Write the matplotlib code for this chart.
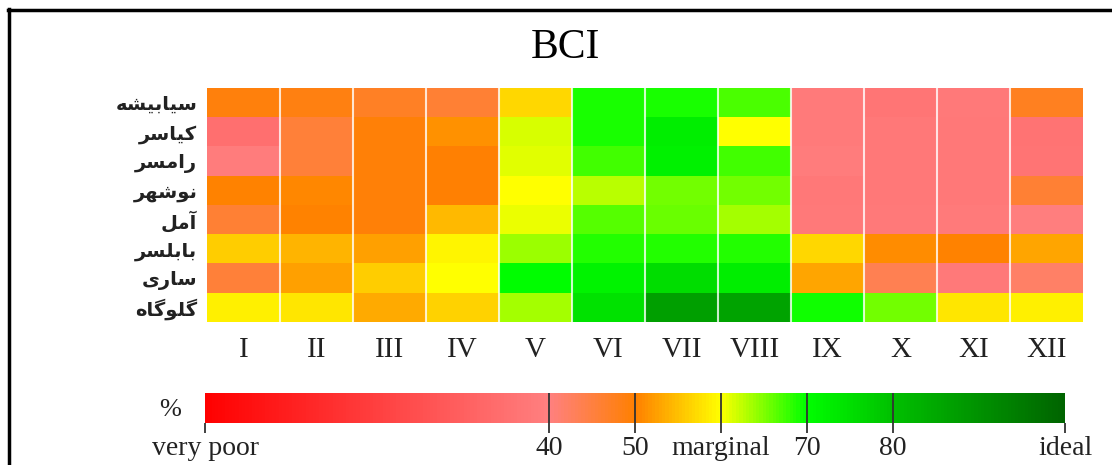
import numpy as np
import matplotlib
matplotlib.use("Agg")
import matplotlib.pyplot as plt
from matplotlib.colors import LinearSegmentedColormap
from matplotlib.lines import Line2D

# --------------------------------------------------------------------------- #
# Data (BCI %)
# --------------------------------------------------------------------------- #
stations = ["سیابیشه", "کیاسر", "رامسر", "نوشهر", "آمل", "بابلسر", "ساری", "گلوگاه"]
months = ["I", "II", "III", "IV", "V", "VI", "VII", "VIII", "IX", "X", "XI", "XII"]

siabishe = [49.0, 48.5, 47.0, 46.0, 57.0, 69.0, 69.0, 67.0, 38.5, 37.0, 38.0, 47.5]
kiasar   = [35.0, 45.5, 49.5, 51.5, 61.5, 69.0, 72.5, 60.0, 38.5, 37.5, 37.5, 36.0]
ramsar   = [39.0, 45.5, 49.5, 49.8, 61.0, 67.5, 72.0, 67.5, 39.0, 37.5, 37.5, 36.5]
nowshahr = [50.0, 50.5, 49.5, 49.8, 60.0, 62.5, 65.5, 65.5, 37.5, 37.5, 37.5, 46.0]
amol     = [46.0, 50.0, 49.5, 54.5, 60.8, 66.5, 66.0, 63.5, 38.0, 38.0, 38.5, 39.5]
babolsar = [56.0, 54.0, 52.5, 59.2, 64.0, 68.5, 68.5, 68.5, 56.8, 50.8, 50.0, 53.0]
sari     = [45.5, 52.5, 56.0, 60.0, 70.0, 71.5, 75.0, 72.5, 53.0, 43.5, 38.0, 42.0]
galugah  = [58.7, 58.0, 53.3, 56.5, 63.5, 74.5, 87.0, 86.0, 69.5, 65.5, 58.0, 58.7]

cbar_ticks = [0, 40, 50, 60, 70, 80, 100]
cbar_labels = ["very poor", "40", "50", "marginal", "70", "80", "ideal"]

# --------------------------------------------------------------------------- #
# Persian shaping (matplotlib does no contextual shaping / bidi)
# --------------------------------------------------------------------------- #
# isolated, final, initial, medial
FORMS = {
    "ا": ("\uFE8D", "\uFE8E", None, None),
    "آ": ("\uFE81", "\uFE82", None, None),
    "ر": ("\uFEAD", "\uFEAE", None, None),
    "و": ("\uFEED", "\uFEEE", None, None),
    "ب": ("\uFE8F", "\uFE90", "\uFE91", "\uFE92"),
    "س": ("\uFEB1", "\uFEB2", "\uFEB3", "\uFEB4"),
    "ش": ("\uFEB5", "\uFEB6", "\uFEB7", "\uFEB8"),
    "ل": ("\uFEDD", "\uFEDE", "\uFEDF", "\uFEE0"),
    "م": ("\uFEE1", "\uFEE2", "\uFEE3", "\uFEE4"),
    "ن": ("\uFEE5", "\uFEE6", "\uFEE7", "\uFEE8"),
    "ه": ("\uFEE9", "\uFEEA", "\uFEEB", "\uFEEC"),
    "ی": ("\uFBFC", "\uFBFD", "\uFBFE", "\uFBFF"),
    "ک": ("\uFB8E", "\uFB8F", "\uFB90", "\uFB91"),
    "گ": ("\uFB92", "\uFB93", "\uFB94", "\uFB95"),
}


def dual(ch):
    return ch in FORMS and FORMS[ch][2] is not None


def shape(word):
    out = []
    for i, ch in enumerate(word):
        prev_joins = i > 0 and dual(word[i - 1])
        next_joins = i < len(word) - 1 and dual(ch) and word[i + 1] in FORMS
        iso, fin, ini, med = FORMS[ch]
        if prev_joins and next_joins:
            out.append(med)
        elif prev_joins:
            out.append(fin)
        elif next_joins:
            out.append(ini)
        else:
            out.append(iso)
    return "".join(reversed(out))


# --------------------------------------------------------------------------- #
# Colour scale
# --------------------------------------------------------------------------- #
cmap = LinearSegmentedColormap.from_list("bci", [
    (0.00, "#ff0000"),
    (0.40, "#ff8080"),
    (0.50, "#ff8000"),
    (0.60, "#ffff00"),
    (0.70, "#00ff00"),
    (0.80, "#00c000"),
    (1.00, "#006400"),
])

SERIF = "Liberation Serif"
INK = "#222222"

values = np.array([siabishe, kiasar, ramsar, nowshahr, amol, babolsar, sari, galugah])

W, H = 1112, 465
fig = plt.figure(figsize=(W / 100, H / 100), dpi=100)

# heatmap
ax = fig.add_axes([207 / W, 1 - 322 / H, (1083 - 207) / W, (322 - 88) / H])
im = ax.imshow(values, cmap=cmap, vmin=0, vmax=100, aspect="auto",
               interpolation="nearest")
for k in range(1, len(months)):
    ax.axvline(k - 0.5, color="white", lw=1.5, alpha=0.8)
ax.set_xticks(range(len(months)))
ax.set_xticklabels(months, family=SERIF, fontsize=21, color=INK)
ax.set_yticks(range(len(stations)))
ax.set_yticklabels([shape(s) for s in stations], family=["DejaVu Sans"],
                   fontsize=14, fontweight="bold", color=INK)
ax.tick_params(axis="x", length=0, pad=11)
ax.tick_params(axis="y", length=0, pad=7)
for s in ax.spines.values():
    s.set_visible(False)

fig.text(565 / W, 1 - 48 / H, "BCI", family=SERIF, fontsize=30,
         ha="center", va="center", color="black")

# colour bar
cax = fig.add_axes([205 / W, 1 - 423 / H, (1065 - 205) / W, (423 - 393) / H])
cb = fig.colorbar(im, cax=cax, orientation="horizontal", ticks=cbar_ticks)
cb.outline.set_visible(False)
cb.ax.set_xticklabels(cbar_labels, family=SERIF, fontsize=20, color=INK)
cb.ax.tick_params(axis="x", direction="out", length=7, width=1.3,
                  color="#333333", pad=2)
for t in cbar_ticks[1:-1]:
    cb.ax.axvline(t, color="#333333", lw=1.3)
fig.text(170 / W, 1 - 410 / H, "%", family=SERIF, fontsize=19,
         ha="center", va="center", color=INK)

# frame lines
fig.add_artist(Line2D([8 / W, 1], [1 - 10 / H, 1 - 10 / H], color="black",
                      lw=2.5, transform=fig.transFigure))
fig.add_artist(Line2D([9 / W, 9 / W], [0, 1 - 9 / H], color="black",
                      lw=2.5, transform=fig.transFigure))

fig.savefig("out.png", dpi=100)
